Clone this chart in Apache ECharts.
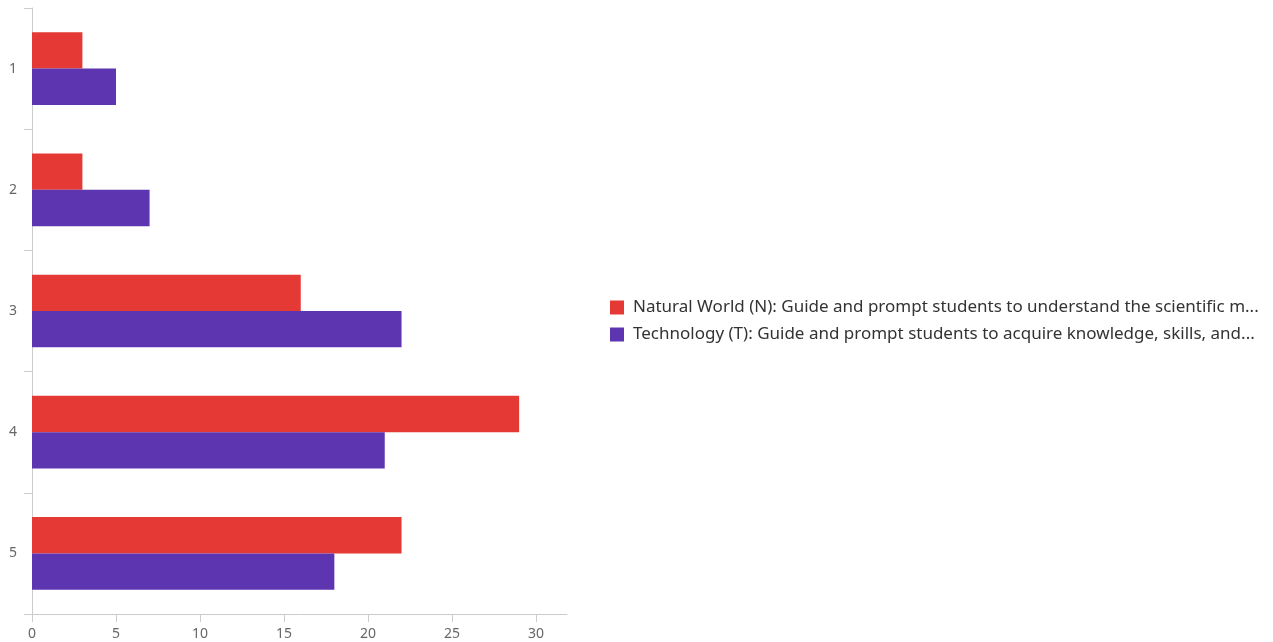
<!DOCTYPE html>
<html>
<head>
<meta charset="utf-8">
<script src="https://cdn.jsdelivr.net/npm/echarts@6/dist/echarts.min.js"></script>
<style>html,body{margin:0;padding:0;background:#fff}#c{width:1273px;height:642px}</style>
</head>
<body>
<div id="c"></div>
<script>
const categories = ['1', '2', '3', '4', '5'];
const seriesNames = [
  'Natural World (N): Guide and prompt students to understand the scientific m...',
  'Technology (T): Guide and prompt students to acquire knowledge, skills, and...'
];
const naturalWorld = [3, 3, 16, 29, 22];
const technology = [5, 7, 22, 21, 18];
const xTicks = [0, 5, 10, 15, 20, 25, 30];

const chart = echarts.init(document.getElementById('c'));
chart.setOption({
  animation: false,
  grid: { left: 32, right: 706, top: 8, bottom: 28, containLabel: false },
  legend: {
    orient: 'vertical',
    left: 605,
    top: 'middle',
    itemWidth: 14,
    itemHeight: 14,
    itemGap: 10,
    icon: 'rect',
    textStyle: { fontFamily: 'Noto Sans', fontSize: 17, color: '#333', padding: [0, 0, 0, 4] },
    data: seriesNames
  },
  xAxis: {
    type: 'value',
    min: 0,
    max: 31.85,
    axisLine: { show: true, lineStyle: { color: '#ccc' } },
    axisTick: { show: true, length: 8, lineStyle: { color: '#ccc' }, customValues: xTicks },
    axisLabel: { color: '#666', fontFamily: 'Noto Sans', fontSize: 14, margin: 13, customValues: xTicks },
    splitLine: { show: false }
  },
  yAxis: {
    type: 'category',
    inverse: true,
    data: categories,
    axisLine: { show: true, lineStyle: { color: '#ccc' } },
    axisTick: { show: true, length: 8, lineStyle: { color: '#ccc' } },
    axisLabel: { color: '#666', fontFamily: 'Noto Sans', fontSize: 14, margin: 15 }
  },
  series: [
    { name: seriesNames[0], type: 'bar', data: naturalWorld, barWidth: '30%', barGap: '0%', itemStyle: { color: '#E53935' } },
    { name: seriesNames[1], type: 'bar', data: technology, barWidth: '30%', barGap: '0%', itemStyle: { color: '#5E35B1' } }
  ]
});
</script>
</body>
</html>
